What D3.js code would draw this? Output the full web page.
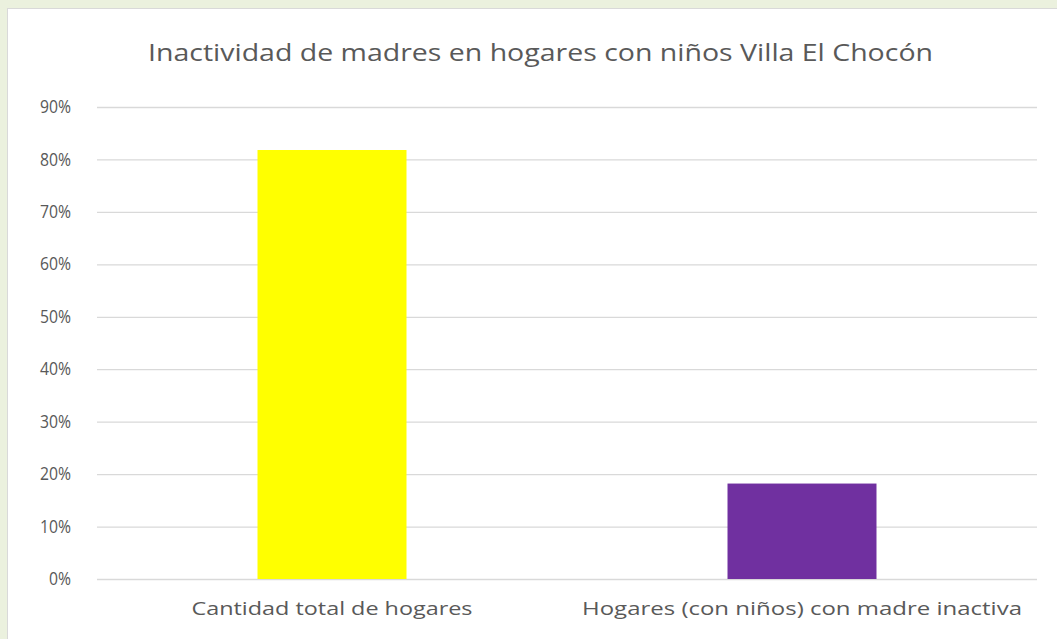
<!DOCTYPE html>
<html><head><meta charset="utf-8">
<script src="https://cdn.jsdelivr.net/npm/d3@7"></script>
<style>html,body{margin:0;padding:0;background:#ebf1de;}</style>
</head><body>
<svg id="c" width="1057" height="639"></svg>
<script>
const title = "Inactividad de madres en hogares con niños Villa El Chocón";
const categories = ["Cantidad total de hogares", "Hogares (con niños) con madre inactiva"];
const values = [0.818, 0.182];
const colors = ["#ffff00", "#7030a0"];
const tickValues = [0, 0.1, 0.2, 0.3, 0.4, 0.5, 0.6, 0.7, 0.8, 0.9];
const catLabelWidths = [281, 440];

const svg = d3.select("#c");
const font = "'Open Sans', sans-serif";
svg.append("rect").attr("x", 7.5).attr("y", 8.5).attr("width", 1060).attr("height", 640)
  .attr("fill", "#fff").attr("stroke", "#d9d9d9");

const m = {left: 97, right: 1037, top: 107, bottom: 579};
const x = d3.scaleBand().domain(categories).range([m.left, m.right]).paddingInner(0.683).paddingOuter(0.3415);
const y = d3.scaleLinear().domain([0, 0.9]).range([m.bottom, m.top]);

svg.append("text").attr("x", 540.5).attr("y", 61).attr("text-anchor", "middle")
  .attr("font-family", font).attr("font-size", 24).attr("fill", "#595959")
  .attr("textLength", 785).attr("lengthAdjust", "spacingAndGlyphs").text(title);

const yAxis = svg.append("g").attr("transform", `translate(${m.left},0)`)
  .call(d3.axisLeft(y).tickValues(tickValues).tickFormat(d3.format(".0%")).tickSize(-(m.right - m.left)).tickPadding(26));
yAxis.select(".domain").remove();
yAxis.selectAll("line").attr("stroke", "#d9d9d9").attr("stroke-width", 1.3);
yAxis.selectAll("text").attr("font-family", font).attr("font-size", 17.5).attr("fill", "#595959")
  .attr("textLength", 31).attr("lengthAdjust", "spacingAndGlyphs");
yAxis.selectAll(".tick").filter(d => d === 0).select("text").attr("textLength", 22);

svg.selectAll(".bar").data(values).join("rect")
  .attr("x", (d, i) => x(categories[i])).attr("width", x.bandwidth())
  .attr("y", d => y(d)).attr("height", d => y(0) - y(d))
  .attr("fill", (d, i) => colors[i]);

const xAxis = svg.append("g").attr("transform", `translate(0,${m.bottom})`)
  .call(d3.axisBottom(x).tickSize(0).tickPadding(23));
xAxis.select(".domain").remove();
xAxis.selectAll("text").attr("font-family", font).attr("font-size", 18).attr("fill", "#595959")
  .attr("textLength", (d, i) => catLabelWidths[i]).attr("lengthAdjust", "spacingAndGlyphs");
</script>
</body></html>
